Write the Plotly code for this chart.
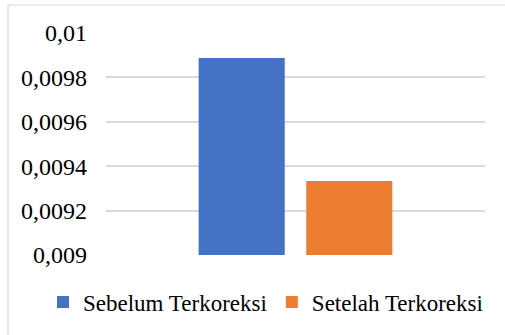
import plotly.graph_objects as go

# Data
series_names = ["Sebelum Terkoreksi", "Setelah Terkoreksi"]
series_values = [0.009887, 0.009333]
series_colors = ["#4472C4", "#ED7D31"]
category = [""]
tick_values = [0.009, 0.0092, 0.0094, 0.0096, 0.0098, 0.01]
tick_labels = ["0,009", "0,0092", "0,0094", "0,0096", "0,0098", "0,01"]

W, H = 505, 335
ml, mr, mt, mb = 106, 20, 33, 80
pw, ph = W - ml - mr, H - mt - mb

fig = go.Figure()
for name, val, col in zip(series_names, series_values, series_colors):
    fig.add_trace(go.Bar(x=category, y=[val], name=name, marker=dict(color=col, line=dict(width=0))))

font = dict(family="Liberation Serif", size=23, color="#000000")
tick_font = dict(family="Liberation Serif", size=24, color="#000000")

fig.update_layout(
    width=W, height=H,
    margin=dict(l=ml, r=mr, t=mt, b=mb, autoexpand=False),
    paper_bgcolor="white", plot_bgcolor="white",
    barmode="group", bargap=0.432, bargroupgap=0.2,
    font=font,
    showlegend=True,
    legend=dict(
        orientation="h", x=(43 - ml) / pw, xanchor="left",
        y=(255 - 302) / ph, yanchor="middle",
        font=font, itemwidth=30,
        bgcolor="rgba(0,0,0,0)",
    ),
    xaxis=dict(showticklabels=False, showgrid=False, zeroline=False, showline=False, ticks=""),
    yaxis=dict(
        range=[0.009, 0.01], tickvals=tick_values, ticktext=tick_labels,
        tickfont=tick_font, automargin=False,
        showgrid=True, gridcolor="#d9d9d9", gridwidth=1.5,
        zeroline=False, showline=False, ticks="", ticklabelstandoff=18,
    ),
)

# light frame around the chart area
fig.add_shape(
    type="rect", xref="paper", yref="paper",
    x0=(8 - ml) / pw, x1=(W + 5 - ml) / pw,
    y0=(255 - (H + 5)) / ph, y1=(255 - 5) / ph,
    line=dict(color="#d9d9d9", width=1.2), fillcolor="rgba(0,0,0,0)", layer="below",
)

fig.write_html("out.html")
